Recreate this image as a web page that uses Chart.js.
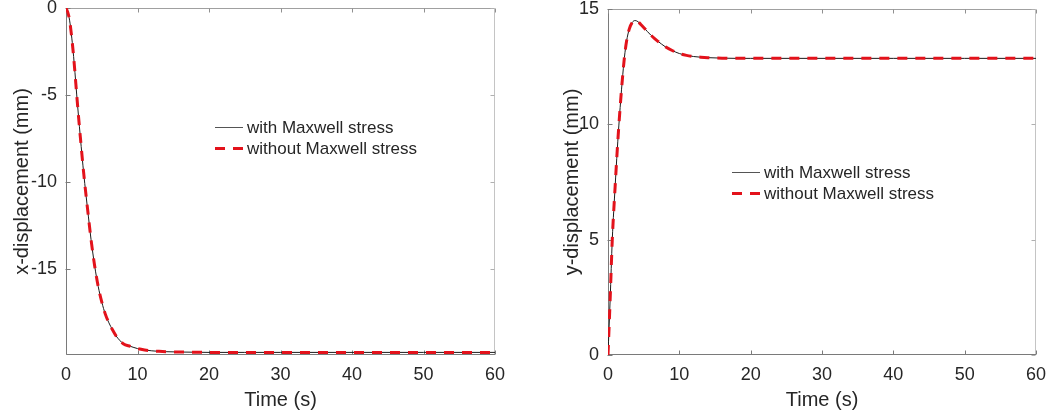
<!DOCTYPE html>
<html><head><meta charset="utf-8">
<script src="https://cdn.jsdelivr.net/npm/chart.js@4.4.1/dist/chart.umd.min.js"></script>
<style>
html,body{margin:0;padding:0;background:#fff;overflow:hidden}
#wrap{position:relative;width:1048px;height:417px}
canvas{position:absolute;top:0}
#c1{left:0}#c2{left:524px}
</style></head><body>
<div id="wrap"><canvas id="c1" width="524" height="417"></canvas><canvas id="c2" width="524" height="417"></canvas></div>
<script>
// ---- data ----
const timeLeft = [0,0.25,0.5,0.75,1,1.25,1.5,2,2.5,3,3.5,4,4.5,5,5.5,6,6.5,7,7.5,8,9,10,11,12,13,14,16,18,20,25,30,40,50,60];
const xWithMaxwell = [0,-0.25,-0.7,-1.5,-2.5,-3.7,-5.0,-7.4,-9.6,-11.5,-13.3,-14.8,-16.0,-16.9,-17.6,-18.1,-18.5,-18.85,-19.1,-19.3,-19.45,-19.58,-19.66,-19.71,-19.74,-19.76,-19.78,-19.79,-19.8,-19.8,-19.8,-19.8,-19.8,-19.8];
const xWithoutMaxwell = [0,-0.25,-0.7,-1.5,-2.5,-3.7,-5.0,-7.4,-9.6,-11.5,-13.3,-14.8,-16.0,-16.9,-17.6,-18.1,-18.5,-18.85,-19.1,-19.3,-19.45,-19.58,-19.66,-19.71,-19.74,-19.76,-19.78,-19.79,-19.8,-19.8,-19.8,-19.8,-19.8,-19.8];
const timeRight = [0,0.3,0.6,1,1.3,1.6,2,2.3,2.6,3,3.4,3.8,4.2,4.6,5,5.5,6,6.5,7,7.5,8,9,10,11,12,13,14,16,18,20,30,40,50,60];
const yWithMaxwell = [0,2.4,5.0,7.3,8.9,10.3,11.9,12.9,13.6,14.15,14.42,14.5,14.45,14.33,14.2,14.03,13.87,13.73,13.6,13.48,13.37,13.2,13.07,12.99,12.94,12.91,12.89,12.87,12.86,12.86,12.86,12.86,12.86,12.86];
const yWithoutMaxwell = [0,2.4,5.0,7.3,8.9,10.3,11.9,12.9,13.6,14.15,14.42,14.5,14.45,14.33,14.2,14.03,13.87,13.73,13.6,13.48,13.37,13.2,13.07,12.99,12.94,12.91,12.89,12.87,12.86,12.86,12.86,12.86,12.86,12.86];
const timeTicks = [0,10,20,30,40,50,60];
const xDispTicks = [0,-5,-10,-15];
const yDispTicks = [0,5,10,15];
const seriesLabels = ['with Maxwell stress','without Maxwell stress'];

const FONT = '"Liberation Sans", Arial, Helvetica, sans-serif';
const TXT = '#262626';

const boxPlugin = {
  id: 'box',
  beforeDatasetsDraw(chart) {
    const {ctx, chartArea: a, scales} = chart;
    ctx.save();
    ctx.lineWidth = 1;
    const L = Math.round(a.left) + 0.5, R = Math.round(a.right) - 0.5,
          T = Math.round(a.top) + 0.5, B = Math.round(a.bottom) - 0.5;
    const seg = (c, x1, y1, x2, y2) => { ctx.strokeStyle = c; ctx.beginPath(); ctx.moveTo(x1, y1); ctx.lineTo(x2, y2); ctx.stroke(); };
    seg('#a0a0a0', L, T, R, T);
    seg('#c4c4c4', R, T, R, B);
    seg('#7a7a7a', L, B, R + 0.5, B);
    seg('#7a7a7a', L, T - 0.5, L, B);
    const tl = 4;
    scales.x.ticks.forEach(t => {
      const x = Math.round(scales.x.getPixelForValue(t.value)) + 0.5;
      seg('#7a7a7a', x, B, x, B - tl);
      seg('#909090', x, T, x, T + tl);
    });
    scales.y.ticks.forEach(t => {
      const y = Math.round(scales.y.getPixelForValue(t.value)) + 0.5;
      seg('#7a7a7a', L - 1, y, L + tl, y);
      seg('#b0b0b0', R, y, R - tl, y);
    });
    ctx.restore();
  }
};

const legendPlugin = {
  id: 'insetLegend',
  afterDraw(chart, args, o) {
    const ctx = chart.ctx;
    ctx.save();
    ctx.font = o.size + 'px ' + FONT;
    ctx.fillStyle = TXT;
    ctx.textBaseline = 'middle';
    ctx.textAlign = 'left';
    chart.data.datasets.forEach((ds, i) => {
      const y = o.y + i * o.rowGap;
      ctx.strokeStyle = i === 0 ? '#555' : ds.borderColor;
      ctx.lineWidth = ds.borderWidth;
      ctx.setLineDash(ds.borderDash || []);
      ctx.beginPath(); ctx.moveTo(o.x, y + 0.5); ctx.lineTo(o.x + o.len, y + 0.5); ctx.stroke();
      ctx.setLineDash([]);
      ctx.fillText(ds.label, o.x + o.len + o.gap, y + 1);
    });
    ctx.restore();
  }
};

function zeroPad(s) { s.paddingTop = 0; s.paddingBottom = 0; s.paddingLeft = 0; s.paddingRight = 0; }

function makeChart(id, t, withArr, withoutArr, yTicks, yMin, yMax, yTitle, pad, yWidth, titlePad, legendOpts) {
  return new Chart(document.getElementById(id), {
    type: 'line',
    data: {
      datasets: [
        { label: seriesLabels[0], data: t.map((x, i) => ({x, y: withArr[i]})), borderColor: '#1a1a1a', borderWidth: 1,
          pointRadius: 0, cubicInterpolationMode: 'monotone', order: 1 },
        { label: seriesLabels[1], data: t.map((x, i) => ({x, y: withoutArr[i]})), borderColor: '#e3121b', borderWidth: 3,
          borderDash: [10, 8], pointRadius: 0, cubicInterpolationMode: 'monotone', order: 0 }
      ]
    },
    options: {
      responsive: false, animation: false, devicePixelRatio: 1,
      layout: { padding: pad },
      plugins: { legend: { display: false }, tooltip: { enabled: false }, insetLegend: legendOpts },
      scales: {
        x: {
          type: 'linear', min: 0, max: 60,
          afterBuildTicks: s => { s.ticks = timeTicks.map(v => ({value: v})); },
          afterFit: s => { s.height = 62; zeroPad(s); },
          grid: { display: false, drawTicks: false }, border: { display: false },
          ticks: { padding: 9, color: TXT, font: { family: FONT, size: 18 }, maxRotation: 0 },
          title: { display: true, text: 'Time (s)', color: TXT, font: { family: FONT, size: 20 }, padding: { top: 0, bottom: 5 } }
        },
        y: {
          type: 'linear', min: yMin, max: yMax,
          afterBuildTicks: s => { s.ticks = yTicks.map(v => ({value: v})); },
          afterFit: s => { s.width = yWidth; zeroPad(s); },
          grid: { display: false, drawTicks: false }, border: { display: false },
          ticks: { padding: 9, color: TXT, font: { family: FONT, size: 18 } },
          title: { display: true, text: yTitle, color: TXT, font: { family: FONT, size: 20 }, padding: { top: titlePad, bottom: 0 } }
        }
      }
    },
    plugins: [boxPlugin, legendPlugin]
  });
}

makeChart('c1', timeLeft, xWithMaxwell, xWithoutMaxwell, xDispTicks, -19.95, 0, 'x-displacement (mm)',
  { left: 0, top: 8, right: 29, bottom: 0 }, 66, 10,
  { x: 215, y: 127, rowGap: 21, len: 28, gap: 4, size: 17 });
makeChart('c2', timeRight, yWithMaxwell, yWithoutMaxwell, yDispTicks, 0, 15, 'y-displacement (mm)',
  { left: 0, top: 9, right: 12, bottom: 0 }, 84, 36,
  { x: 208, y: 172, rowGap: 21, len: 28, gap: 4, size: 17 });
</script>
</body></html>
